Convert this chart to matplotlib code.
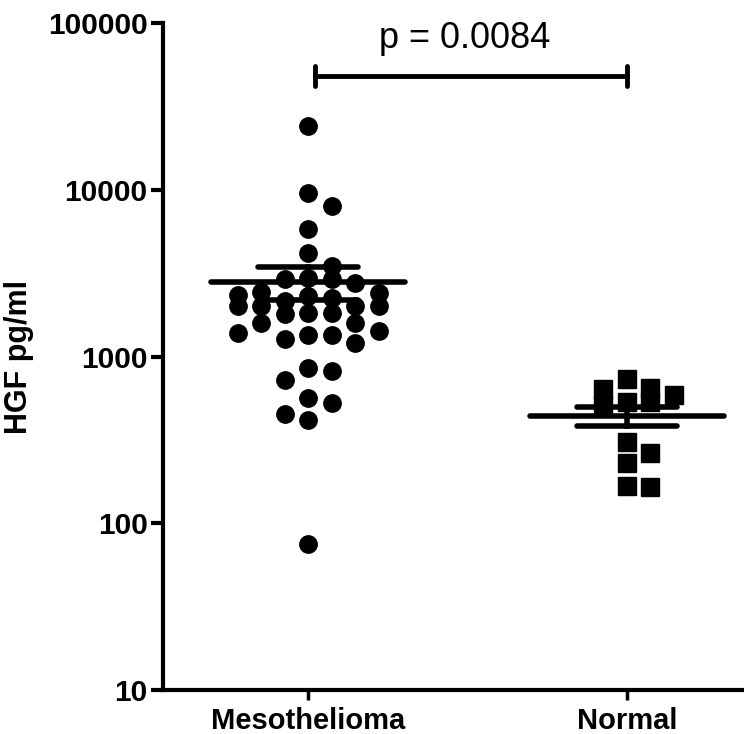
import numpy as np
import matplotlib
matplotlib.use("Agg")
import matplotlib.pyplot as plt

plt.rcParams['font.family'] = ['Liberation Sans', 'DejaVu Sans']

categories = ["Mesothelioma", "Normal"]
meso_values = [24000, 9600, 8000, 5800, 4200, 3500,
               2900, 2750, 2900, 2950,
               2400, 2450, 2350, 2300, 2250,
               2000, 2000, 1830, 1800, 1580, 2160, 1830, 2020, 2020,
               1430, 1340, 1265, 1210, 1340, 1390, 1580,
               850, 720, 820, 560, 455, 415, 525, 75]
normal_values = [635, 730, 650, 590, 530, 510, 530, 305, 265, 230, 165, 167]
y_ticks = [10, 100, 1000, 10000, 100000]
p_text = "p = 0.0084"

fig = plt.figure(figsize=(7.44, 7.34), dpi=100)
ax = fig.add_axes([163/744, 1-690/734, 1-163/744, (690-23)/734])
ax.set_yscale('log')
ax.set_ylim(10, 100000)
ax.set_xlim(-0.455, 1.367)

px_per_decade = 167.0
row_px = 20.0
max_per_row = 7
slot_w = 23.5 / 319.0
slot_order = [0, 1, -1, 2, -2, 3, -3]


def row_offsets(vals):
    """GraphPad-like column scatter: bin sorted values into rows,
    spread the points of each row over fixed slots."""
    vals = np.asarray(vals, dtype=float)
    order = np.argsort(-vals, kind='stable')
    offs = np.zeros(len(vals))
    row_start = None
    n_in_row = 0
    for i in order:
        yl = np.log10(vals[i]) * px_per_decade
        if row_start is None or (row_start - yl) > row_px or n_in_row >= max_per_row:
            row_start = yl
            n_in_row = 0
        offs[i] = slot_order[n_in_row] * slot_w
        n_in_row += 1
    return offs


groups = [(meso_values, 'o'), (normal_values, 's')]
for gi, (vals, mk) in enumerate(groups):
    vals = np.asarray(vals, dtype=float)
    xo = row_offsets(vals)
    ax.plot(gi + xo, vals, linestyle='none', marker=mk, ms=12.5,
            color='black', mec='black', zorder=3)
    m = vals.mean()
    sem = vals.std(ddof=1) / np.sqrt(len(vals))
    ax.plot([gi - 0.305, gi + 0.305], [m, m], color='black', lw=4,
            solid_capstyle='round', zorder=4)
    ax.plot([gi - 0.157, gi + 0.157], [m + sem, m + sem], color='black', lw=4,
            solid_capstyle='round', zorder=4)
    ax.plot([gi - 0.157, gi + 0.157], [m - sem, m - sem], color='black', lw=4,
            solid_capstyle='round', zorder=4)
    ax.plot([gi, gi], [m - sem, m + sem], color='black', lw=4, zorder=4)

# significance bracket
yb = 48200
ax.plot([0.022, 1.0], [yb, yb], color='black', lw=3.5, clip_on=False)
for xb in (0.022, 1.0):
    ax.plot([xb, xb], [42000, 55300], color='black', lw=3.5,
            solid_capstyle='round', clip_on=False)
ax.text(0.49, 80200, p_text, ha='center', va='center', fontsize=26,
        color='black')

ax.set_yticks(y_ticks)
ax.set_yticklabels([str(t) for t in y_ticks], fontsize=21.5, fontweight='bold')
ax.yaxis.set_minor_locator(matplotlib.ticker.NullLocator())
ax.set_xticks([0, 1])
ax.set_xticklabels(categories, fontsize=21, fontweight='bold')
ax.tick_params(axis='y', length=9, width=3, pad=2)
ax.tick_params(axis='x', length=7, width=2.5, pad=5)
ax.set_ylabel("HGF pg/ml", fontsize=22, fontweight='bold', labelpad=10)

for s in ('top', 'right'):
    ax.spines[s].set_visible(False)
for s in ('left', 'bottom'):
    ax.spines[s].set_linewidth(3)

fig.savefig("out.png", dpi=100)
